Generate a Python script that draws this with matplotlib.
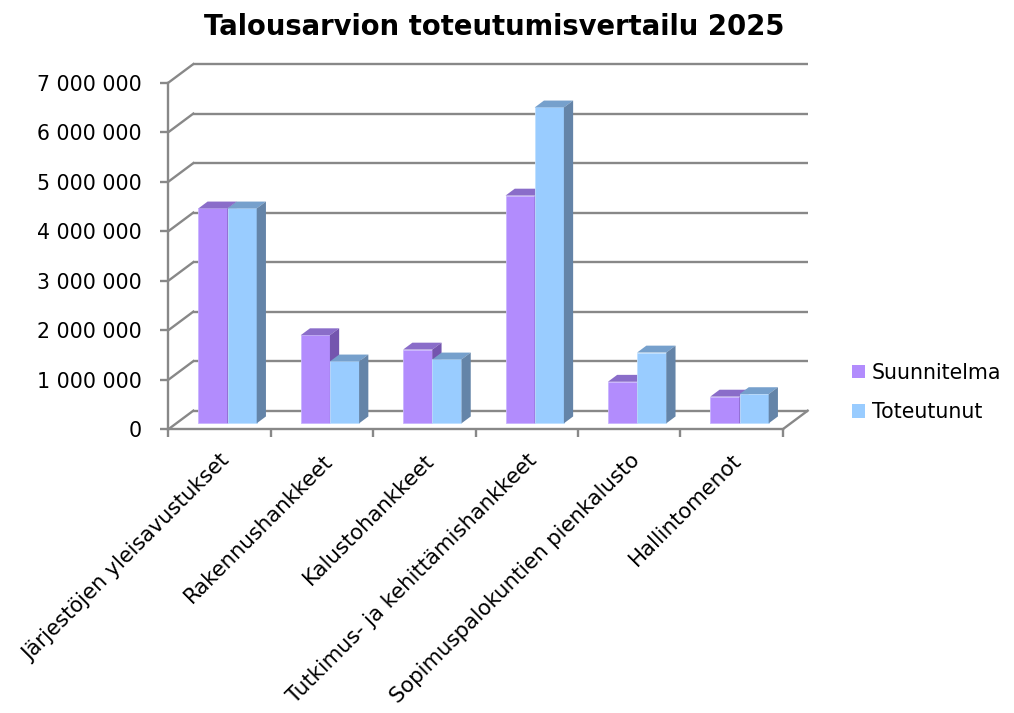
import numpy as np
import matplotlib
matplotlib.use("Agg")
from matplotlib import pyplot as plt
from matplotlib.patches import Polygon, Patch
from matplotlib.ticker import FuncFormatter

categories = ["Järjestöjen yleisavustukset", "Rakennushankkeet", "Kalustohankkeet",
              "Tutkimus- ja kehittämishankkeet", "Sopimuspalokuntien pienkalusto",
              "Hallintomenot"]
suunnitelma = [4340000, 1780000, 1490000, 4600000, 840000, 540000]
toteutunut = [4340000, 1250000, 1290000, 6380000, 1430000, 590000]
series_names = ["Suunnitelma", "Toteutunut"]
yticks = [0, 1000000, 2000000, 3000000, 4000000, 5000000, 6000000, 7000000]

# colours: front, top, side
purple = ("#B28CFD", "#8A6DC9", "#7455AE")
blue = ("#99CCFF", "#76A0CC", "#6484A8")
grid_col = "#888888"

plt.rcParams['font.family'] = ['DejaVu Sans']

fig = plt.figure(figsize=(10.14, 7.13), dpi=100)
ax = fig.add_axes([0.1660, 0.3979, 0.6059, 0.4861])
ax.set_xlim(0, len(categories))
ax.set_ylim(0, 7000000)

# depth of the floor (oblique projection), in data units
dxf = 0.244
dyf = 0.376e6
front = 0.32   # bar front plane, fraction of depth
bdep = 0.37    # bar depth, fraction of depth
w = 0.285      # bar width

lw = 1.7
# back wall gridlines + left wall diagonals
for v in yticks:
    ax.plot([dxf, len(categories) + dxf], [v + dyf, v + dyf], color=grid_col, lw=lw,
            clip_on=False, zorder=1, solid_capstyle='butt')
    ax.plot([0, dxf], [v, v + dyf], color=grid_col, lw=lw, clip_on=False, zorder=1)
# right floor edge
ax.plot([len(categories), len(categories) + dxf], [0, dyf], color=grid_col, lw=lw,
        clip_on=False, zorder=1)

def draw_bar(xc, v, cols):
    x0 = xc - w / 2 + front * dxf
    y0 = front * dyf
    ddx, ddy = bdep * dxf, bdep * dyf
    ax.bar(x0, v, width=w, bottom=y0, align='edge', color=cols[0], edgecolor="#C9B5FF" if cols is purple else "#BFE0FF",
           linewidth=0.6, zorder=3, clip_on=False)
    top = Polygon([(x0, y0 + v), (x0 + w, y0 + v), (x0 + w + ddx, y0 + v + ddy), (x0 + ddx, y0 + v + ddy)],
                  closed=True, facecolor=cols[1], edgecolor='none', zorder=3, clip_on=False)
    side = Polygon([(x0 + w, y0), (x0 + w + ddx, y0 + ddy), (x0 + w + ddx, y0 + v + ddy), (x0 + w, y0 + v)],
                   closed=True, facecolor=cols[2], edgecolor='none', zorder=3, clip_on=False)
    ax.add_patch(top)
    ax.add_patch(side)

for i in range(len(categories)):
    c = i + 0.5
    draw_bar(c - w / 2, suunnitelma[i], purple)
    draw_bar(c + w / 2, toteutunut[i], blue)

for s in ["top", "right"]:
    ax.spines[s].set_visible(False)
for s in ["left", "bottom"]:
    ax.spines[s].set_color(grid_col)
    ax.spines[s].set_linewidth(lw)
    ax.spines[s].set_zorder(4)

ax.set_yticks(yticks)
ax.yaxis.set_major_formatter(FuncFormatter(lambda v, p: f"{int(v):,}".replace(",", " ")))
ax.tick_params(axis='y', direction='out', length=6, width=lw, color=grid_col,
               labelsize=14.8, pad=13, labelcolor='black')
ax.set_xticks(np.arange(len(categories) + 1))
ax.set_xticklabels([])
ax.tick_params(axis='x', direction='out', length=6, width=lw, color=grid_col)

for i, name in enumerate(categories):
    ax.text(i + 0.5 + 0.07, -0.57e6, name, rotation=45, rotation_mode='anchor',
            ha='right', va='center', fontsize=15.3, clip_on=False)

fig.text(494 / 1014, 1 - 27 / 713, "Talousarvion toteutumisvertailu 2025",
         ha='center', va='center', fontsize=19.8, fontweight='bold')

handles = [Patch(facecolor=purple[0]), Patch(facecolor=blue[0])]
fig.legend(handles, series_names, loc='center left', bbox_to_anchor=(0.840, 0.4495),
           frameon=False, fontsize=14.8, handlelength=0.63, handleheight=0.63,
           handletextpad=0.35, labelspacing=0.95, borderpad=0, borderaxespad=0)

fig.savefig("out.png", dpi=100)
